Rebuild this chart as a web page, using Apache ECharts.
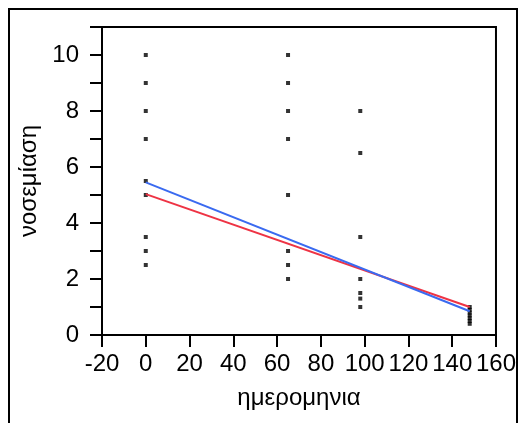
<!DOCTYPE html>
<html>
<head>
<meta charset="utf-8">
<script src="https://cdn.jsdelivr.net/npm/echarts@6/dist/echarts.min.js"></script>
<style>
  html, body { margin: 0; padding: 0; background: #fff; }
  #chart { width: 519px; height: 423px; }
</style>
</head>
<body>
<div id="chart"></div>
<script>
// measurement days and the scores read at each
var days = [0, 0, 0, 0, 0, 0, 0, 0, 0,
            65, 65, 65, 65, 65, 65, 65, 65,
            98, 98, 98, 98, 98, 98, 98,
            148, 148, 148, 148, 148, 148, 148];
var scores = [10, 9, 8, 7, 5.5, 5, 3.5, 3, 2.5,
              10, 9, 8, 7, 5, 3, 2.5, 2,
              8, 6.5, 3.5, 2, 1.5, 1.3, 1,
              1, 0.9, 0.8, 0.7, 0.6, 0.5, 0.4];
// two fitted lines (endpoints)
var redFit = [[0, 5.03], [148, 1.0]];
var blueFit = [[0, 5.45], [148, 0.85]];

var points = days.map(function (d, i) { return [d, scores[i]]; });

var myChart = echarts.init(document.getElementById('chart'));
var font = 'Liberation Sans, Arial, sans-serif';

var option = {
  animation: false,
  graphic: [{
    type: 'rect',
    shape: { x: 9, y: 9, width: 508, height: 440 },
    style: { fill: 'none', stroke: '#000', lineWidth: 2 },
    silent: true
  }],
  grid: {
    left: 102, top: 27, width: 400, height: 308,
    show: true, borderColor: '#000', borderWidth: 2, backgroundColor: 'transparent'
  },
  xAxis: {
    type: 'value', min: -20, max: 160, interval: 20,
    name: 'ημερομηνια', nameLocation: 'middle', nameGap: 51,
    nameTextStyle: { fontFamily: font, fontSize: 24, color: '#000' },
    axisLine: { show: true, onZero: false, lineStyle: { color: '#000', width: 2 } },
    axisTick: { show: true, inside: false, length: 12, lineStyle: { color: '#000', width: 2 } },
    axisLabel: { fontFamily: font, fontSize: 24, color: '#000', margin: 17 },
    splitLine: { show: false }
  },
  yAxis: {
    type: 'value', min: 0, max: 11, interval: 1,
    name: 'νοσεμίαση', nameLocation: 'middle', nameGap: 58,
    nameTextStyle: { fontFamily: font, fontSize: 24, color: '#000' },
    axisLine: { show: true, onZero: false, lineStyle: { color: '#000', width: 2 } },
    axisTick: { show: true, inside: false, length: 12, lineStyle: { color: '#000', width: 2 } },
    axisLabel: {
      fontFamily: font, fontSize: 24, color: '#000', margin: 23,
      formatter: function (v) { return (v % 2 === 0 && v <= 10) ? String(v) : ''; }
    },
    splitLine: { show: false }
  },
  series: [
    {
      type: 'scatter', data: points, symbol: 'rect', symbolSize: 4,
      itemStyle: { color: '#000' }, z: 3
    },
    {
      type: 'line', data: redFit, symbol: 'none',
      lineStyle: { color: '#ee3344', width: 2 }, z: 4
    },
    {
      type: 'line', data: blueFit, symbol: 'none',
      lineStyle: { color: '#3a6af0', width: 2 }, z: 5
    }
  ]
};

myChart.setOption(option);
</script>
</body>
</html>
